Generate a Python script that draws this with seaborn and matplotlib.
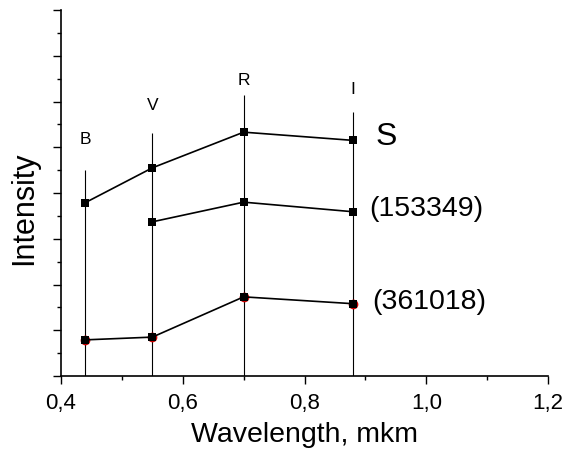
import numpy as np
import pandas as pd
import matplotlib
matplotlib.use("Agg")
import matplotlib.pyplot as plt
from matplotlib.ticker import MultipleLocator, FuncFormatter
import seaborn as sns

# photometric bands
bands = ["B", "V", "R", "I"]
band_wl = [0.44, 0.55, 0.70, 0.88]
band_line_top = [4.50, 5.31, 6.14, 5.78]
band_label_y = [5.16, 5.92, 6.47, 6.27]

# intensities (arbitrary units)
s_intensity = [3.79, 4.55, 5.33, 5.15]
obj153349 = [np.nan, 3.37, 3.80, 3.59]
obj361018 = [0.79, 0.85, 1.73, 1.58]

series_names = ["S", "(153349)", "(361018)"]
series_label_pos = [(0.916, 5.22), (0.906, 3.65), (0.911, 1.62)]
series_label_size = [23, 20.5, 20.5]

sns.set_style("ticks")
plt.rcParams["font.family"] = ["Liberation Sans", "DejaVu Sans"]
plt.rcParams["text.color"] = "black"
plt.rcParams["axes.labelcolor"] = "black"

df = pd.DataFrame({"wl": band_wl, "S": s_intensity,
                   "(153349)": obj153349, "(361018)": obj361018})

fig = plt.figure(figsize=(5.73, 4.51), dpi=100)
ax = fig.add_axes([0.1065, 0.1663, 0.8499, 0.8115])

ax.vlines(band_wl, 0, band_line_top, color="black", linewidth=0.8)
for b, x, y in zip(bands, band_wl, band_label_y):
    ax.text(x, y, b, ha="center", va="center", fontsize=12.5, color="black")

# red circles behind the last series
sub = df.dropna(subset=["(361018)"])
ax.plot(sub["wl"], sub["(361018)"], "o", color="#d00000", markersize=7,
        markeredgewidth=0, zorder=3)

for name in series_names:
    d = df.dropna(subset=[name])
    sns.lineplot(data=d, x="wl", y=name, ax=ax, color="black", linewidth=1.2,
                 marker="s", markersize=6.3, markeredgewidth=0, zorder=4)

for name, (x, y), fs in zip(series_names, series_label_pos, series_label_size):
    ax.text(x, y, name, ha="left", va="center", fontsize=fs, color="black")

ax.set_xlim(0.4, 1.2)
ax.set_ylim(0, 8)
ax.xaxis.set_major_locator(MultipleLocator(0.2))
ax.xaxis.set_minor_locator(MultipleLocator(0.1))
ax.yaxis.set_major_locator(MultipleLocator(1))
ax.yaxis.set_minor_locator(MultipleLocator(0.5))
ax.xaxis.set_major_formatter(FuncFormatter(lambda v, p: f"{v:.1f}".replace(".", ",")))
ax.set_yticklabels([])
ax.tick_params(which="major", length=6, width=1, direction="out", labelsize=16,
               pad=6, colors="black", labelcolor="black")
ax.tick_params(which="minor", length=3, width=1, direction="out", colors="black")

sns.despine(ax=ax)
for sp in ["left", "bottom"]:
    ax.spines[sp].set_linewidth(1.2)
    ax.spines[sp].set_color("black")

ax.set_xlabel("Wavelength, mkm", fontsize=20.5, labelpad=6, color="black")
ax.set_ylabel("Intensity", fontsize=22, color="black")
ax.yaxis.set_label_coords(-0.045, 0.459)

fig.savefig("out.png", dpi=100)
